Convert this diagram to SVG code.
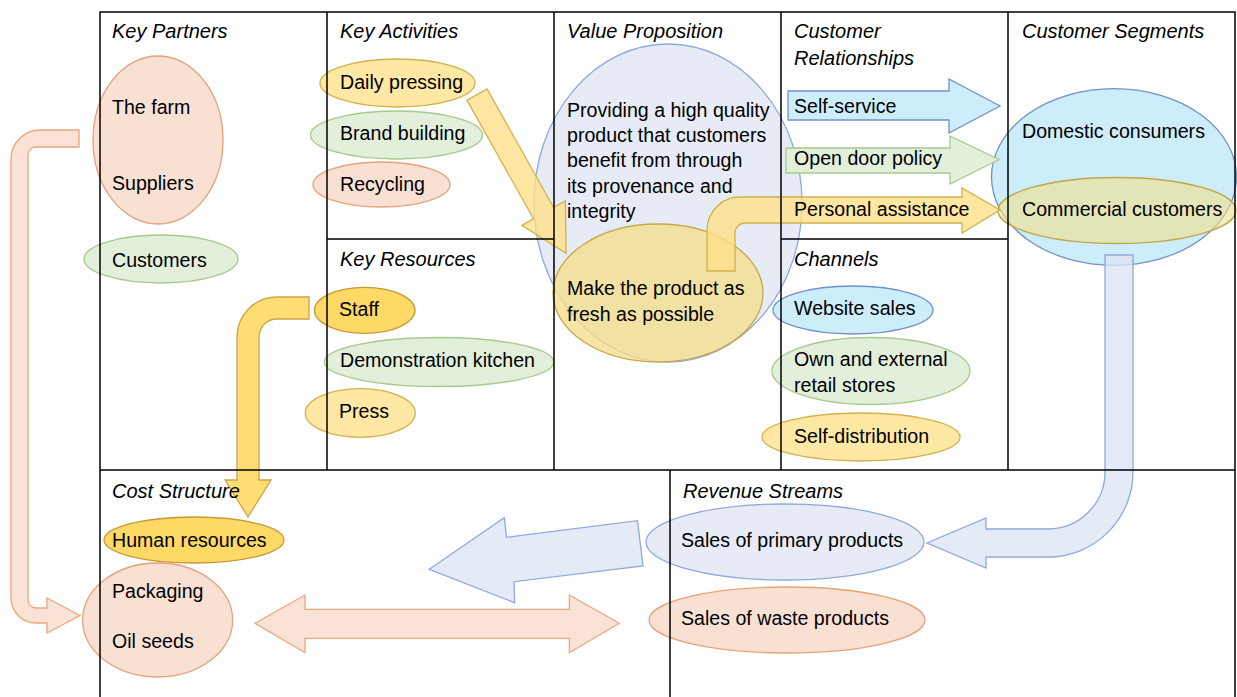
<svg xmlns="http://www.w3.org/2000/svg" width="1237" height="697" viewBox="0 0 1237 697">
<style>
text{font-family:"Liberation Sans",Arial,sans-serif;font-size:19.6px;fill:#000}
.t{font-style:italic;font-size:20px}
.grid{stroke:#000;stroke-width:1.5;fill:none}
.or{fill:#F8E0D3;stroke:#E6A27A;stroke-width:1.3}
.gr{fill:#E2EFDA;stroke:#A8C98E;stroke-width:1.3}
.ye{fill:#FFE699;stroke:#D2B14E;stroke-width:1.3;fill-opacity:0.9}
.yd{fill:#FFD966;stroke:#C49A35;stroke-width:1.3}
.bl{fill:#CDEDFA;stroke:#7390C6;stroke-width:1.3}
.lv{fill:#E6EBF5;stroke:#8EA9DB;stroke-width:1.3}
.cOr{fill:#FAE3D6;stroke:#EDA67C;stroke-width:1.3}
.cYe{fill:#FFE08A;stroke:#D2B14E;stroke-width:1.3;fill-opacity:0.8}
.cYd{fill:#FFD966;stroke:#D0A24A;stroke-width:1.3;fill-opacity:0.9}
.cLv{fill:#DCE4F3;stroke:#8EA9DB;stroke-width:1.3;fill-opacity:0.75}
</style>
<rect width="1237" height="697" fill="#fff"/>

<g id="vp-ellipse"><ellipse class="lv" cx="668" cy="203" rx="134" ry="159"/>
<text x="567" y="117">Providing a high quality</text>
<text x="567" y="142">product that customers</text>
<text x="567" y="167">benefit from through</text>
<text x="567" y="192.5">its provenance and</text>
<text x="567" y="218">integrity</text></g>
<g id="vp-fresh"><ellipse cx="658" cy="293" rx="105" ry="69" fill="#F4DE8E" fill-opacity="0.8" stroke="#C9A84A" stroke-width="1.3"/>
<text x="567" y="295">Make the product as</text>
<text x="567" y="321">fresh as possible</text></g>

<g id="kp-farm"><ellipse class="or" cx="158" cy="140" rx="65" ry="84"/>
<text x="112" y="114">The farm</text><text x="112" y="190">Suppliers</text></g>
<g id="kp-customers"><ellipse class="gr" cx="161" cy="259" rx="77" ry="24"/><text x="112" y="267">Customers</text></g>

<g id="ka-daily"><ellipse class="ye" cx="397.5" cy="83" rx="77.5" ry="24"/><text x="340" y="89">Daily pressing</text></g>
<g id="ka-brand"><ellipse class="gr" cx="396.5" cy="135" rx="86" ry="24"/><text x="340" y="140">Brand building</text></g>
<g id="ka-recycling"><ellipse class="or" cx="381.5" cy="184.5" rx="68.5" ry="22.5"/><text x="340" y="191">Recycling</text></g>

<g id="kr-staff"><ellipse class="yd" cx="364.7" cy="310.3" rx="50.3" ry="23"/><text x="339" y="316">Staff</text></g>
<g id="kr-kitchen"><ellipse class="gr" cx="439" cy="362" rx="114.7" ry="24.5"/><text x="340" y="367">Demonstration kitchen</text></g>
<g id="kr-press"><ellipse class="ye" cx="360.3" cy="413" rx="55" ry="24.3"/><text x="339" y="418">Press</text></g>

<g id="cs-domestic"><ellipse class="bl" cx="1114" cy="177" rx="122.5" ry="88.3"/><text x="1022" y="138">Domestic consumers</text></g>
<g id="cs-commercial"><ellipse cx="1117" cy="210.5" rx="119" ry="33" fill="#F2DF8A" fill-opacity="0.6" stroke="#BFA64A" stroke-width="1.3"/><text x="1022" y="216">Commercial customers</text></g>

<g id="cr-self"><polygon class="bl" points="788,91 949,91 949,79 1000,106 949,133 949,120 788,120"/><text x="794" y="113">Self-service</text></g>
<g id="cr-open"><polygon class="gr" points="786,148 950,148 950,136 999,159.5 950,184 950,173 786,173"/><text x="794" y="165">Open door policy</text></g>
<g id="cr-personal"><path class="cYe" d="M707,271 L707,230 A33,33 0 0 1 740,197 L962,197 L962,188 L1000,210 L962,233 L962,223 L745,223 A10,10 0 0 0 735,233 L735,271 Z"/><text x="794" y="216">Personal assistance</text></g>

<g id="ch-website"><ellipse class="bl" cx="853" cy="310" rx="80" ry="24"/><text x="794" y="315">Website sales</text></g>
<g id="ch-retail"><ellipse class="gr" cx="871" cy="371" rx="99" ry="33.5"/><text x="794" y="366">Own and external</text><text x="794" y="392">retail stores</text></g>
<g id="ch-selfdist"><ellipse class="ye" cx="861" cy="437" rx="99" ry="24"/><text x="794" y="443">Self-distribution</text></g>

<g id="cost-hr"><ellipse class="yd" cx="194" cy="540" rx="90" ry="23"/><text x="112" y="547">Human resources</text></g>
<g id="cost-pack"><ellipse class="or" cx="157.6" cy="620" rx="75" ry="57"/><text x="112" y="598">Packaging</text><text x="112" y="648">Oil seeds</text></g>

<g id="rev-primary"><ellipse class="lv" cx="785" cy="542" rx="139" ry="38"/><text x="681" y="547">Sales of primary products</text></g>
<g id="rev-waste"><ellipse class="or" cx="787" cy="620" rx="138" ry="33"/><text x="681" y="625">Sales of waste products</text></g>

<g id="connectors">
<path class="cOr" d="M79,130 L40,130 A29,29 0 0 0 11,159 L11,598 A25,25 0 0 0 36,623 L47,623 L47,633 L80,615.5 L47,598 L47,608 L36,608 A8,8 0 0 1 28,600 L28,155 A8,8 0 0 1 36,147 L79,147 Z"/>
<polygon class="cYe" transform="translate(477,94.5) rotate(60.7)" points="0,-11.5 136,-11.5 136,-25 182,0 136,25 136,11.5 0,11.5"/>
<path class="cYd" d="M309,297 L277,297 A40,40 0 0 0 237,337 L237,480 L225,480 L248,517 L271,480 L259,480 L259,337 A18,18 0 0 1 277,319 L309,319 Z"/>
<path class="cLv" d="M1105,255 L1133,255 L1133,472 A85,85 0 0 1 1048,557 L986,557 L986,568 L927,543 L986,518 L986,529 L1048,529 A57,57 0 0 0 1105,472 Z"/>
<polygon class="cLv" points="637.5,520.7 643,566 514,581.7 514.7,602.7 429.3,569.3 504.3,517.7 506.5,537.3"/>
<polygon class="cOr" points="255,623.3 305,595 305,609.3 569.4,609.3 569.4,595 619.3,623.3 569.4,652.7 569.4,638.3 305,638.3 305,652.7"/>
</g>

<g id="canvas">
<path class="grid" d="M100,697 L100,12 L1235,12 L1235,697 M100,470 L1235,470 M327,12 L327,470 M554,12 L554,470 M781,12 L781,470 M1008,12 L1008,470 M327,239 L554,239 M781,239 L1008,239 M670,470 L670,697"/>
<text class="t" x="112" y="38">Key Partners</text>
<text class="t" x="340" y="38">Key Activities</text>
<text class="t" x="567" y="38">Value Proposition</text>
<text class="t" x="794" y="38">Customer</text>
<text class="t" x="794" y="65">Relationships</text>
<text class="t" x="1022" y="38">Customer Segments</text>
<text class="t" x="340" y="266">Key Resources</text>
<text class="t" x="794" y="266">Channels</text>
<text class="t" x="112" y="498">Cost Structure</text>
<text class="t" x="683" y="498">Revenue Streams</text>
</g>
</svg>
